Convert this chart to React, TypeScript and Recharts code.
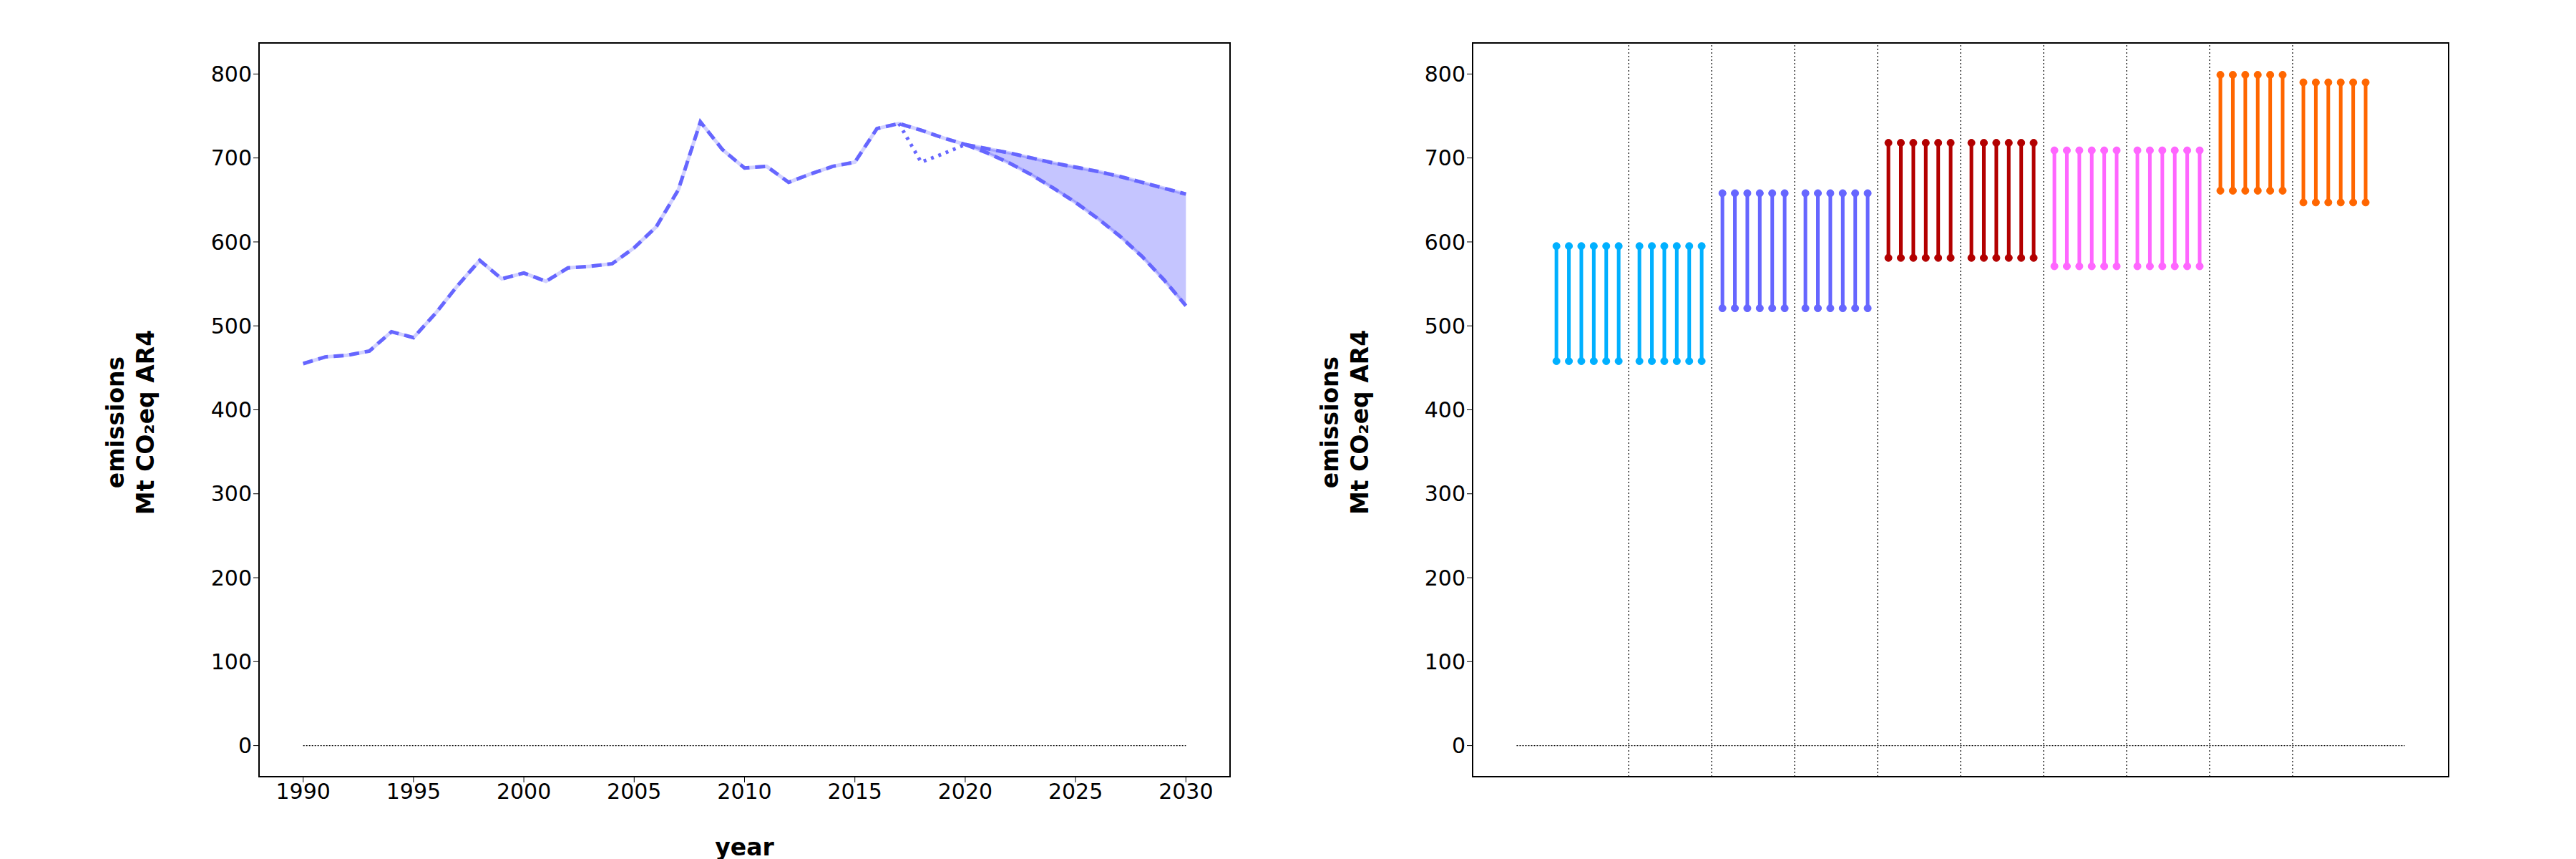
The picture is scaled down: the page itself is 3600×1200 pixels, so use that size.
import { Area, ComposedChart, Line, ReferenceArea, ReferenceLine, XAxis, YAxis } from 'recharts';

const years = Array.from({ length: 41 }, (_, i) => 1990 + i);
const historic = [455, 463, 465, 470, 493, 486, 515, 548, 578, 556, 563, 553, 569, 571, 574, 593, 618, 662, 743, 710, 688, 690, 671, 681, 690, 695, 735, 741, 733, 724, 716];
const dottedYears = [2017, 2018, 2019, 2020];
const dottedValues = [741, 695, 705, 716];
const projYears = [2020, 2021, 2022, 2023, 2024, 2025, 2026, 2027, 2028, 2029, 2030];
const projUpper = [716, 711, 706, 700, 694, 689, 684, 678, 671, 664, 657];
const projLower = [716, 706, 694, 680, 664, 647, 628, 607, 583, 555, 524];
const leftXTicks = [1990, 1995, 2000, 2005, 2010, 2015, 2020, 2025, 2030];
const yTicks = [0, 100, 200, 300, 400, 500, 600, 700, 800];

const groupTop = [595, 595, 658, 658, 718, 718, 709, 709, 799, 790];
const groupBottom = [458, 458, 521, 521, 581, 581, 571, 571, 661, 647];
const groupColor = ['#00b0ff', '#00b0ff', '#6666ff', '#6666ff', '#b30000', '#b30000', '#ff66ff', '#ff66ff', '#ff6600', '#ff6600'];
const barsPerGroup = 6;

const rows = years.map((year) => {
  const hi = year - 1990;
  const di = dottedYears.indexOf(year);
  const pi = projYears.indexOf(year);
  return {
    year,
    historic: hi < historic.length ? historic[hi] : null,
    dotted: di >= 0 ? dottedValues[di] : null,
    upper: pi >= 0 ? projUpper[pi] : null,
    lower: pi >= 0 ? projLower[pi] : null,
  };
});

const segments = groupTop.flatMap((top, g) =>
  Array.from({ length: barsPerGroup }, (_, j) => ({
    key: `${g}-${j}`,
    color: groupColor[g],
    data: [
      { x: g + 0.13 + j * 0.15, y: groupBottom[g] },
      { x: g + 0.13 + j * 0.15, y: top },
    ],
  })),
);

const font = 'DejaVu Sans, sans-serif';
const tick = { fontSize: 30, fill: '#000', fontFamily: font };
const Y_DOMAIN: [number, number] = [-37, 837];
const BLUE = '#6666ff';

function yLabel(cx: number, cy: number) {
  return () => (
    <text transform={`rotate(-90, ${cx}, ${cy})`} x={cx} y={cy} textAnchor="middle" fontFamily={font} fontWeight="bold" fontSize={33} fill="#000">
      <tspan x={cx} dy={-16}>emissions</tspan>
      <tspan x={cx} dy={42}>Mt CO₂eq AR4</tspan>
    </text>
  );
}

export default function App() {
  return (
    <div style={{ position: 'absolute', left: 0, top: 0, width: 3600, height: 1200, background: '#fff' }}>
      <div style={{ position: 'absolute', left: 0, top: 0 }}>
        <ComposedChart width={1800} height={1200} data={rows} margin={{ top: 60, left: 0, right: 81, bottom: 5 }}>
          <XAxis
            dataKey="year"
            type="number"
            domain={[1988, 2032]}
            ticks={leftXTicks}
            tick={tick}
            tickSize={8}
            height={110}
            stroke="#000"
            label={{ value: 'year', position: 'insideBottom', offset: 0, style: { fontSize: 33, fontWeight: 'bold', fontFamily: font, fill: '#000' } }}
          />
          <YAxis type="number" domain={Y_DOMAIN} ticks={yTicks} tick={tick} tickSize={8} width={362} stroke="#000" label={{ content: yLabel(189, 590) }} />
          <ReferenceArea x1={1988} x2={2032} y1={Y_DOMAIN[0]} y2={Y_DOMAIN[1]} fill="none" stroke="#000" strokeWidth={2} />
          <ReferenceLine segment={[{ x: 1990, y: 0 }, { x: 2030, y: 0 }]} stroke="#000" strokeWidth={1.2} strokeDasharray="2 2" />
          <Area dataKey={(d: any) => (d.lower != null ? [d.lower, d.upper] : null)} fill={BLUE} fillOpacity={0.38} stroke={BLUE} strokeOpacity={0.3} strokeWidth={2} isAnimationActive={false} />
          <Line dataKey="historic" stroke={BLUE} strokeOpacity={0.3} strokeWidth={5} dot={false} isAnimationActive={false} />
          <Line dataKey="historic" stroke={BLUE} strokeWidth={5} strokeDasharray="14 8" dot={false} isAnimationActive={false} />
          <Line dataKey="dotted" stroke={BLUE} strokeWidth={5} strokeDasharray="4 7" dot={false} isAnimationActive={false} />
          <Line dataKey="upper" stroke={BLUE} strokeOpacity={0.3} strokeWidth={5} dot={false} isAnimationActive={false} />
          <Line dataKey="upper" stroke={BLUE} strokeWidth={5} strokeDasharray="14 8" dot={false} isAnimationActive={false} />
          <Line dataKey="lower" stroke={BLUE} strokeOpacity={0.3} strokeWidth={5} dot={false} isAnimationActive={false} />
          <Line dataKey="lower" stroke={BLUE} strokeWidth={5} strokeDasharray="14 8" dot={false} isAnimationActive={false} />
        </ComposedChart>
      </div>
      <div style={{ position: 'absolute', left: 1800, top: 0 }}>
        <ComposedChart width={1800} height={1200} margin={{ top: 60, left: 0, right: 178, bottom: 115 }}>
          <XAxis dataKey="x" type="number" domain={[-0.88, 10.88]} hide allowDuplicatedCategory={false} />
          <YAxis type="number" domain={Y_DOMAIN} ticks={yTicks} tick={tick} tickSize={8} width={258} stroke="#000" label={{ content: yLabel(86, 590) }} />
          <ReferenceArea x1={-0.88} x2={10.88} y1={Y_DOMAIN[0]} y2={Y_DOMAIN[1]} fill="none" stroke="#000" strokeWidth={2} />
          {groupTop.slice(1).map((_, k) => (
            <ReferenceLine key={k} x={k + 1} stroke="#000" strokeWidth={1.2} strokeDasharray="2 3" />
          ))}
          <ReferenceLine segment={[{ x: -0.35, y: 0 }, { x: 10.35, y: 0 }]} stroke="#000" strokeWidth={1.2} strokeDasharray="2 2" />
          {segments.map((s) => (
            <Line
              key={s.key}
              data={s.data}
              dataKey="y"
              stroke={s.color}
              strokeWidth={5}
              dot={{ r: 5, fill: s.color, stroke: s.color, strokeWidth: 1 }}
              isAnimationActive={false}
            />
          ))}
        </ComposedChart>
      </div>
    </div>
  );
}
